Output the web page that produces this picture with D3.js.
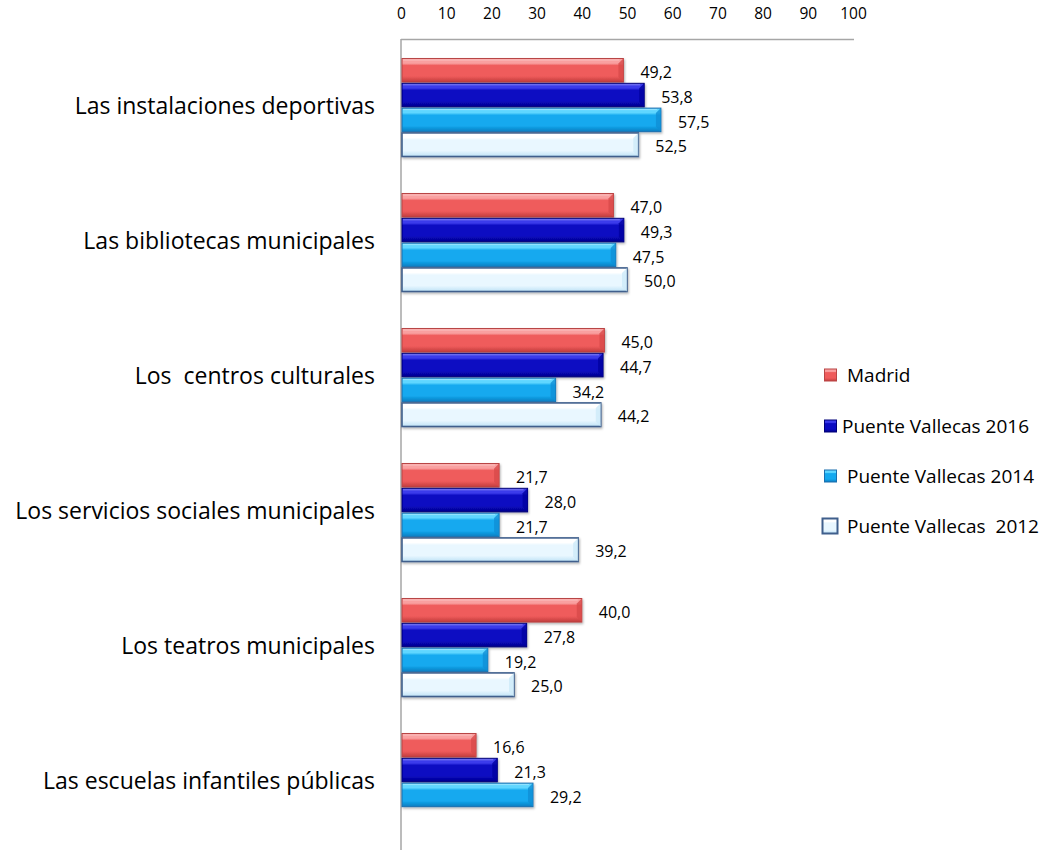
<!DOCTYPE html>
<html>
<head>
<meta charset="utf-8">
<script src="https://cdn.jsdelivr.net/npm/d3@7"></script>
<style>
  html, body { margin: 0; padding: 0; background: #fff; }
  svg text { font-family: "Open Sans", Lato, sans-serif; white-space: pre; fill: #000; }
</style>
</head>
<body>
<svg id="chart" width="1046" height="850"></svg>
<script>
const categories = [
  "Las instalaciones deportivas",
  "Las bibliotecas municipales",
  "Los  centros culturales",
  "Los servicios sociales municipales",
  "Los teatros municipales",
  "Las escuelas infantiles públicas"
];
const seriesNames = ["Madrid", "Puente Vallecas 2016", "Puente Vallecas 2014", "Puente Vallecas  2012"];
const madrid = [49.2, 47.0, 45.0, 21.7, 40.0, 16.6];
const pv2016 = [53.8, 49.3, 44.7, 28.0, 27.8, 21.3];
const pv2014 = [57.5, 47.5, 34.2, 21.7, 19.2, 29.2];
const pv2012 = [52.5, 50.0, 44.2, 39.2, 25.0, null];
const tickValues = [0, 10, 20, 30, 40, 50, 60, 70, 80, 90, 100];

const seriesValues = [madrid, pv2016, pv2014, pv2012];
const palettes = [
  { top: "#f9a0a0", base: "#ef5b5b", bottom: "#c03c3c", stroke: "#b94545", bevel: "#d84a4a" },
  { top: "#3a3aeb", base: "#0b0bc2", bottom: "#00008a", stroke: "#000078", bevel: "#0000a0" },
  { top: "#5fd6ff", base: "#14a9ef", bottom: "#0a7cc0", stroke: "#1a6fae", bevel: "#0f8fd6" },
  { top: "#ffffff", base: "#e9f7ff", bottom: "#bfe2f6", stroke: "#3f5f8c", bevel: "#cdeaf9" }
];

const svg = d3.select("#chart");
const x = d3.scaleLinear().domain([0, 100]).range([401, 853]);
const y0 = d3.scaleBand().domain(categories).range([40, 850]).paddingInner(0.274).paddingOuter(0.137);
const y1 = d3.scaleBand().domain(d3.range(seriesNames.length)).range([0, y0.bandwidth()]).paddingInner(0.05);

// gradients
const defs = svg.append("defs");
palettes.forEach((p, i) => {
  const g = defs.append("linearGradient").attr("id", "g" + i).attr("x1", 0).attr("x2", 0).attr("y1", 0).attr("y2", 1);
  g.append("stop").attr("offset", "0").attr("stop-color", p.top);
  g.append("stop").attr("offset", "0.2").attr("stop-color", p.top);
  g.append("stop").attr("offset", "0.3").attr("stop-color", p.base);
  g.append("stop").attr("offset", "0.75").attr("stop-color", p.base);
  g.append("stop").attr("offset", "1").attr("stop-color", p.bottom);
});
const f = defs.append("filter").attr("id", "shadow").attr("x", "-5%").attr("y", "-20%").attr("width", "110%").attr("height", "160%");
f.append("feDropShadow").attr("dx", 1).attr("dy", 1.5).attr("stdDeviation", 1).attr("flood-color", "#000").attr("flood-opacity", 0.3);

// axes
const xAxis = d3.axisTop(x).tickValues(tickValues).tickSize(0).tickPadding(0).tickFormat(d3.format("d"));
const ax = svg.append("g").attr("transform", "translate(0,39.5)").call(xAxis);
ax.select(".domain").attr("stroke", "#a6a6a6").attr("stroke-width", 1.5).attr("d", `M${x(0)},0H${x(100) + 1}`);
ax.selectAll(".tick text").attr("y", -25).attr("dy", "0.32em").style("font-size", "15.5px").style("font-family", "'Open Sans', sans-serif").attr("fill", "#000");

svg.append("line").attr("x1", x(0)).attr("x2", x(0)).attr("y1", 39).attr("y2", 850)
  .attr("stroke", "#a6a6a6").attr("stroke-width", 1.5);

// bars
const rows = [];
categories.forEach((c, ci) => {
  seriesValues.forEach((vals, si) => {
    if (vals[ci] != null) rows.push({ cat: c, si, v: vals[ci] });
  });
});

const barG = svg.append("g");
const bars = barG.selectAll("g.bar").data(rows).join("g").attr("class", "bar")
  .attr("transform", d => `translate(${x(0) + 1},${y0(d.cat) + y1(d.si)})`);
const bh = y1.bandwidth();
bars.append("rect")
  .attr("width", d => x(d.v) - x(0) - 1)
  .attr("height", bh)
  .attr("fill", d => `url(#g${d.si})`)
  .attr("stroke", d => palettes[d.si].stroke)
  .attr("stroke-width", d => d.si === 3 ? 1.6 : 1)
  .attr("filter", "url(#shadow)");
// right-end bevel
bars.append("path")
  .attr("d", d => {
    const w = x(d.v) - x(0) - 1, b = 5;
    return `M${w},0 L${w - b},${b} L${w - b},${bh - b} L${w},${bh} Z`;
  })
  .attr("fill", d => palettes[d.si].bevel)
  .attr("opacity", 0.8);
// top highlight line
bars.append("line")
  .attr("x1", 1).attr("x2", d => x(d.v) - x(0) - 5)
  .attr("y1", 1.5).attr("y2", 1.5)
  .attr("stroke", "#fff").attr("stroke-opacity", 0.35).attr("stroke-width", 1);

// value labels
svg.append("g").selectAll("text").data(rows).join("text")
  .attr("x", d => x(d.v) + 17)
  .attr("y", d => y0(d.cat) + y1(d.si) + bh / 2 + 2)
  .attr("dy", "0.35em")
  .style("font-size", "16px")
  .text(d => d3.format(".1f")(d.v).replace(".", ","));

// category labels
svg.append("g").selectAll("text").data(categories).join("text")
  .attr("x", 375)
  .attr("y", d => y0(d) + y0.bandwidth() / 2 - 2)
  .attr("dy", "0.35em")
  .attr("text-anchor", "end")
  .style("font-size", "23px")
  .text(d => d);

// legend
const legendY = [375, 426, 476, 526];
const legendTextX = [847, 842, 847, 847];
const lg = svg.append("g").selectAll("g").data(seriesNames).join("g");
lg.append("rect")
  .attr("x", (d, i) => i === 3 ? 822.5 : 824.5)
  .attr("y", (d, i) => legendY[i] - (i === 3 ? 7.5 : 6))
  .attr("width", (d, i) => i === 3 ? 15 : 12)
  .attr("height", (d, i) => i === 3 ? 15 : 12)
  .attr("fill", (d, i) => `url(#g${i})`)
  .attr("stroke", (d, i) => palettes[i].stroke)
  .attr("stroke-width", (d, i) => i === 3 ? 2 : 1);
lg.append("text")
  .attr("x", (d, i) => legendTextX[i])
  .attr("y", (d, i) => legendY[i])
  .attr("dy", "0.35em")
  .style("font-size", "19px")
  .text(d => d);
</script>
</body>
</html>
